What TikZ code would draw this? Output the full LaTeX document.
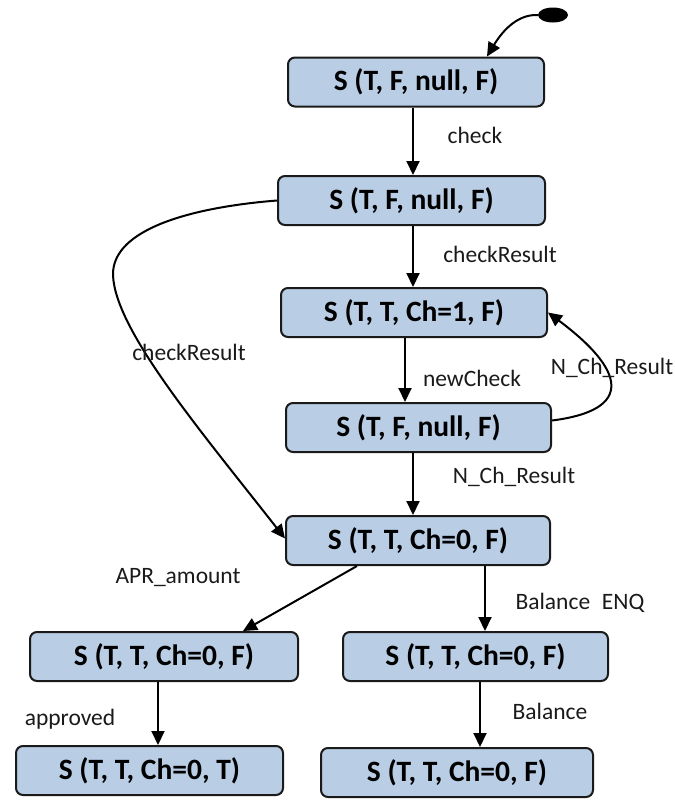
\documentclass[tikz,border=0pt]{standalone}
\usepackage{fontspec}
\setmainfont{Carlito}
\usetikzlibrary{arrows.meta,shapes.geometric}
\definecolor{boxblue}{HTML}{B9CDE5}
\definecolor{inkgray}{HTML}{1A1A1A}

\begin{document}
\begin{tikzpicture}[x=1pt,y=-1pt,
  state/.style={draw=inkgray, line width=2pt, rounded corners=7pt, fill=boxblue,
    minimum height=49pt, inner sep=0pt, font=\fontsize{29.5}{34}\selectfont\bfseries},
  lbl/.style={font=\fontsize{23.5}{28}\selectfont, text=inkgray, inner sep=0pt},
  arr/.style={-{Triangle[length=14pt,width=13pt]}, line width=2pt, draw=black}
]
\useasboundingbox (0,0) rectangle (675,801);

% initial pseudo-state
\node[ellipse, fill=black, minimum width=30pt, minimum height=15pt, inner sep=0pt] (init) at (553,15) {};

% states
\node[state, minimum width=256pt] (b1) at (416,82)    {S (T, F, null, F)};
\node[state, minimum width=267pt] (b2) at (411.5,200.5) {S (T, F, null, F)};
\node[state, minimum width=266pt] (b3) at (414,312.5) {S (T, T, Ch=1, F)};
\node[state, minimum width=265pt] (b4) at (418.5,427.5) {S (T, F, null, F)};
\node[state, minimum width=264pt] (b5) at (418,540.5) {S (T, T, Ch=0, F)};
\node[state, minimum width=268pt] (b6) at (164,656.5) {S (T, T, Ch=0, F)};
\node[state, minimum width=265pt] (b7) at (475.5,656.5) {S (T, T, Ch=0, F)};
\node[state, minimum width=267pt] (b8) at (149.5,770.5) {S (T, T, Ch=0, T)};
\node[state, minimum width=272pt] (b9) at (457,772.5) {S (T, T, Ch=0, F)};

% transitions
\draw[arr] (init.west) .. controls (515,14) and (500,35) .. ([xshift=71pt]b1.north);
\draw[arr] ([xshift=-3pt]b1.south) -- ([xshift=1.5pt]b2.north);
\draw[arr] ([xshift=1.5pt]b2.south) -- ([xshift=-1pt]b3.north);
\draw[arr] ([xshift=-9pt]b3.south) -- ([xshift=-13.5pt]b4.north);
\draw[arr] ([yshift=7pt]b4.east) .. controls (635,410) and (625,370) .. (b3.east);
\draw[arr] ([xshift=-5.5pt]b4.south) -- ([xshift=-5pt]b5.north);
\draw[arr] (b2.west) .. controls (195,207) and (112,228) .. (113,275)
                     .. controls (115,330) and (200,430) .. ([yshift=2pt]b5.west);
\draw[arr] ([xshift=-61pt]b5.south) -- ([xshift=79pt]b6.north);
\draw[arr] ([xshift=67pt]b5.south) -- ([xshift=9.5pt]b7.north);
\draw[arr] ([xshift=-6pt]b6.south) -- ([xshift=8.5pt]b8.north);
\draw[arr] ([xshift=4.5pt]b7.south) -- ([xshift=23pt]b9.north);

% transition labels
\node[lbl] (l1) at (475,135) {check};
\node[lbl] (l2) at (500,254) {checkResult};
\node[lbl] (l3) at (472,378) {newCheck};
\node[lbl] (l4) at (612,368) {N\_Ch\_Result};
\node[lbl] (l5) at (514,477) {N\_Ch\_Result};
\node[lbl] (l6) at (189,352) {checkResult};
\node[lbl] (l7) at (178,578) {APR\_amount};
\node[lbl] (l8) at (580,603) {Balance\hspace{0.5em}ENQ};
\node[lbl] (l9) at (70,719) {approved};
\node[lbl] (l10) at (550,711) {Balance};
\end{tikzpicture}
\end{document}
